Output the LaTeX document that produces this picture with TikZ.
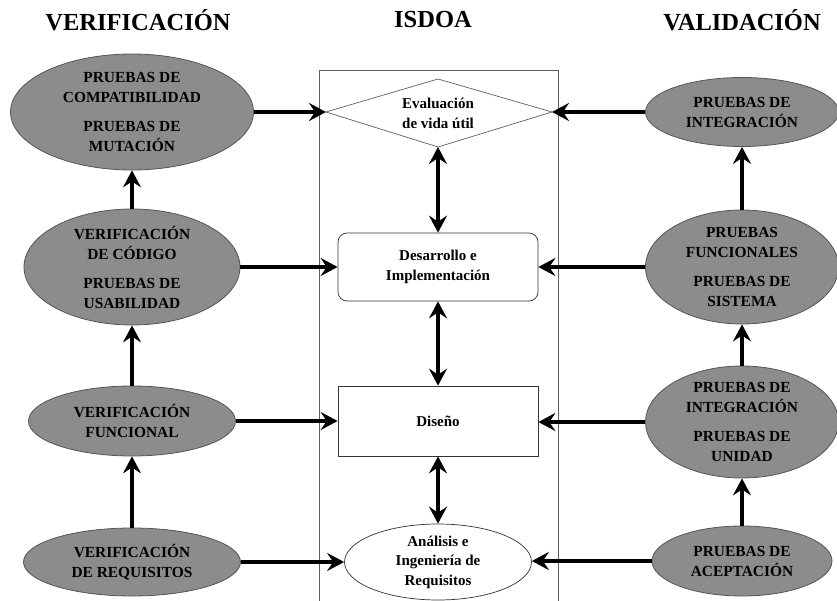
\documentclass[tikz,border=0pt]{standalone}
\usepackage{fontspec}
\setmainfont{Liberation Serif}
\usetikzlibrary{shapes.geometric,arrows.meta}
\definecolor{ellfill}{RGB}{140,140,140}
\definecolor{elldraw}{RGB}{85,85,85}
\definecolor{linegray}{RGB}{95,95,95}
\tikzset{
  gell/.style={ellipse,draw=elldraw,fill=ellfill,line width=0.8pt,inner sep=0pt},
  etext/.style={align=center,font=\bfseries\fontsize{15.4}{20}\selectfont,inner sep=0pt},
  ctext/.style={align=center,font=\bfseries\fontsize{15}{20}\selectfont,inner sep=0pt},
  ttl/.style={font=\bfseries\fontsize{24.5}{28}\selectfont},
  cbox/.style={draw=black!80,line width=0.7pt,fill=white,inner sep=0pt},
  arr/.style={line width=3.5pt,-{Stealth[length=17pt,width=18pt,inset=6pt]}},
  darr/.style={line width=3.5pt,{Stealth[length=17pt,width=18pt,inset=6pt]}-{Stealth[length=17pt,width=18pt,inset=6pt]}},
}
\begin{document}
\begin{tikzpicture}[x=1pt,y=-1pt]
\useasboundingbox (0,0) rectangle (837,601);
% titles
\node[ttl] (tv) at (138,20) {VERIFICACIÓN};
\node[ttl] (ti) at (433,20) {ISDOA};
\node[ttl] (tval) at (742,20) {VALIDACIÓN};
% ISDOA column frame
\coordinate (fbl) at (319,605);
\coordinate (ftl) at (319,70);
\coordinate (ftr) at (558,70);
\coordinate (fbr) at (558,605);
\draw[linegray,line width=0.8pt] (fbl) -- (ftl) -- (ftr) -- (fbr);
% diamond
\coordinate (dT) at (438,79);
\coordinate (dR) at (552,112);
\coordinate (dB) at (438,147);
\coordinate (dL) at (326,112);
\draw[linegray,line width=0.7pt,fill=white] (dT) -- (dR) -- (dB) -- (dL) -- cycle;
\node[ctext] (dia) at (438,113) {Evaluación\\de vida útil};
% center shapes
\node[cbox,rounded corners=9pt,minimum width=200pt,minimum height=68pt] (dev) at (438,267) {};
\node[ctext] (devt) at (dev) {Desarrollo e\\Implementación};
\node[cbox,minimum width=200pt,minimum height=70pt] (dis) at (438,421) {};
\node[ctext] (dist) at (dis) {Diseño};
\node[cbox,ellipse,minimum width=187pt,minimum height=76pt] (ana) at (438,562) {};
\node[ctext,font=\bfseries\fontsize{15}{19.5}\selectfont] (anat) at (ana) {Análisis e\\Ingeniería de\\Requisitos};
% left ellipses
\node[gell,minimum width=243pt,minimum height=116pt] (E1) at (132,112) {};
\node[etext] at (E1) {PRUEBAS DE\\COMPATIBILIDAD\\[9pt]PRUEBAS DE\\MUTACIÓN};
\node[gell,minimum width=216pt,minimum height=116pt] (E2) at (132,267) {};
\node[etext] at (E2) {VERIFICACIÓN\\DE CÓDIGO\\[9pt]PRUEBAS DE\\USABILIDAD};
\node[gell,minimum width=207pt,minimum height=70pt] (E3) at (132,421) {};
\node[etext] at (E3) {VERIFICACIÓN\\FUNCIONAL};
\node[gell,minimum width=217pt,minimum height=68pt] (E4) at (132,562) {};
\node[etext] at (E4) {VERIFICACIÓN\\DE REQUISITOS};
% right ellipses
\node[gell,minimum width=193pt,minimum height=69pt] (R1) at (742,112) {};
\node[etext] at (R1) {PRUEBAS DE\\INTEGRACIÓN};
\node[gell,minimum width=193pt,minimum height=114pt] (R2) at (742,267) {};
\node[etext] at (R2) {PRUEBAS\\FUNCIONALES\\[9pt]PRUEBAS DE\\SISTEMA};
\node[gell,minimum width=193pt,minimum height=112pt] (R3) at (742,422) {};
\node[etext] at (R3) {PRUEBAS DE\\INTEGRACIÓN\\[9pt]PRUEBAS DE\\UNIDAD};
\node[gell,minimum width=180pt,minimum height=70pt] (R4) at (742,561) {};
\node[etext] at (R4) {PRUEBAS DE\\ACEPTACIÓN};
% horizontal arrows
\draw[arr] (E1.east) -- (dL);
\draw[arr] (E2.east) -- (dev.west);
\draw[arr] (E3.east) -- (dis.west);
\draw[arr] (E4.east) -- (E4.east -| ana.west);
\draw[arr] (R1.west) -- (dR);
\draw[arr] (R2.west) -- (dev.east);
\draw[arr] (R3.west) -- (R3.west -| dis.east);
\draw[arr] (R4.west) -- (R4.west -| ana.east);
% vertical arrows
\draw[arr] (E4.north) -- (E3.south);
\draw[arr] (E3.north) -- (E2.south);
\draw[arr] (E2.north) -- (E1.south);
\draw[arr] (R4.north) -- (R3.south);
\draw[arr] (R3.north) -- (R2.south);
\draw[arr] (R2.north) -- (R1.south);
% double arrows
\draw[darr] (dB) -- (dev.north);
\draw[darr] (dev.south) -- (dis.north);
\draw[darr] (dis.south) -- (ana.north);
\end{tikzpicture}
\end{document}
